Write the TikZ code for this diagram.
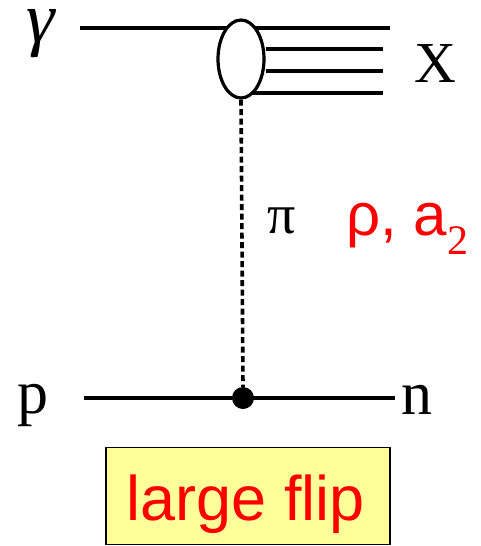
\documentclass[tikz,border=0pt]{standalone}
\usepackage{fontspec}
\setmainfont{Liberation Serif}
\newfontfamily\arialf{Liberation Sans}
\usetikzlibrary{shapes.geometric}
\definecolor{boxyellow}{HTML}{FFFF99}
\begin{document}
\begin{tikzpicture}[x=1pt,y=-1pt,
  line/.style={line width=3.4pt},
  lbl/.style={inner sep=0pt, text=black},
  redlbl/.style={inner sep=0pt, text=red, font=\arialf}]
\useasboundingbox (0,0) rectangle (481,546);
% external line coordinates
\coordinate (gin) at (80,28);
\coordinate (xout1) at (390,28);
\coordinate (xout2) at (383,49);
\coordinate (xout3) at (383,71);
\coordinate (xout4) at (383,93);
\coordinate (pin) at (84,398);
\coordinate (nout) at (395,398);
% labels
\node[lbl, anchor=base, font=\itshape\fontsize{72}{72}\selectfont] (gamma) at (41,42) {γ};
\node[lbl, font=\fontsize{58}{58}\selectfont] (X) at (435,64) {X};
\node[lbl, font=\fontsize{56}{56}\selectfont] (pi) at (282,221) {π};
\node[redlbl, anchor=base west, font=\arialf\fontsize{60}{60}\selectfont] (rho) at (346,235) {ρ, a$_{\mathrm{\arialf 2}}$};
\node[lbl, font=\fontsize{62}{62}\selectfont] (p) at (33,405) {p};
\node[lbl, font=\fontsize{62}{62}\selectfont] (n) at (417,400) {n};
% lines
\draw[line] (gin) -- (xout1);
\node[draw, line width=3.2pt, fill=white, ellipse, minimum width=46pt, minimum height=78pt, inner sep=0pt] (blob) at (241,59) {};
\draw[line] (blob.east) ++(0,-10) coordinate (b2) -- (xout2);
\draw[line] (blob.east) ++(0,12) coordinate (b3) -- (xout3);
\coordinate (b4) at (253,93);
\draw[line] (b4) -- (xout4);
\node[circle, fill=black, minimum size=22pt, inner sep=0pt] (dot) at (243,398) {};
\draw[line] (pin) -- (nout);
\draw[line width=3.6pt, dash pattern=on 6pt off 3.5pt] (blob.south) -- (dot.north);
% box
\node[draw, line width=1.8pt, fill=boxyellow, minimum width=284pt, minimum height=97pt, inner sep=0pt] (box) at (248,496) {};
\node[redlbl, anchor=base, font=\arialf\fontsize{63}{63}\selectfont] (flip) at (246,520) {large flip};
\end{tikzpicture}
\end{document}
